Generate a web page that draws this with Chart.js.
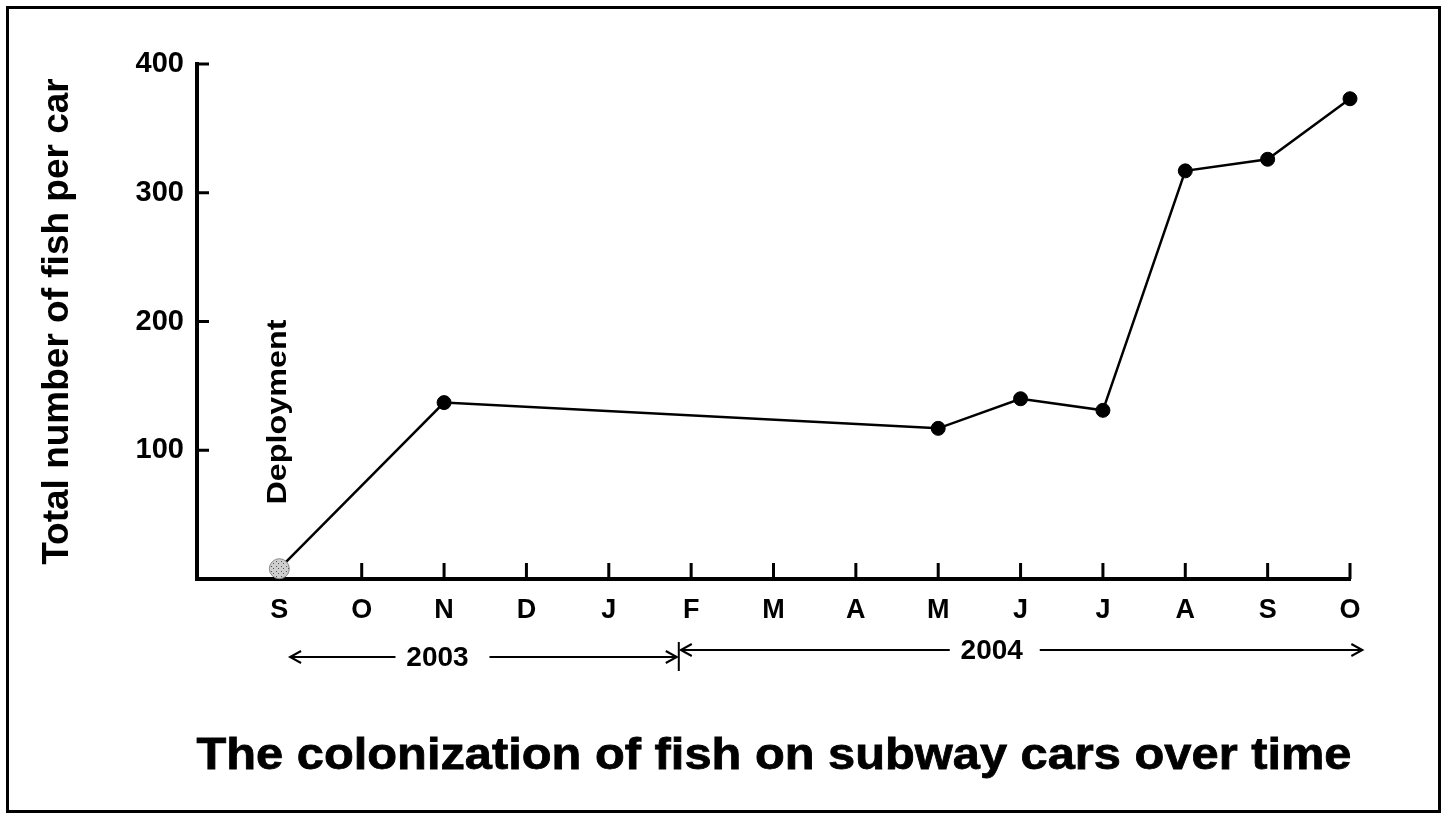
<!DOCTYPE html>
<html>
<head>
<meta charset="utf-8">
<title>Colonization of fish on subway cars</title>
<script src="https://cdn.jsdelivr.net/npm/chart.js@4.4.1/dist/chart.umd.min.js"></script>
<style>
  html, body { margin: 0; padding: 0; background: #fff; }
  #wrap { width: 1447px; height: 820px; }
</style>
</head>
<body>
<div id="wrap"><canvas id="fish-chart" width="1447" height="820"></canvas></div>
<script>
// ── Data ──────────────────────────────────────────────────────────
// month ticks, Sep 2003 .. Oct 2004
const monthLabels = ['S', 'O', 'N', 'D', 'J', 'F', 'M', 'A', 'M', 'J', 'J', 'A', 'S', 'O'];
// which month each survey was taken in (index into monthLabels)
const surveyMonthIdx = [0, 2, 8, 9, 10, 11, 12, 13];
// total fish per car at each survey (first one = deployment)
const fishPerCar = [8, 137, 117, 140, 131, 317, 326, 373];
const yTickValues = [100, 200, 300, 400];
const yearLabels = ['2003', '2004'];

const chartTitle = 'The colonization of fish on subway cars over time';
const yAxisTitle = 'Total number of fish per car';
const deployLabel = 'Deployment';

const FONT = '"Liberation Sans", Arial, Helvetica, sans-serif';

// ── Helpers ───────────────────────────────────────────────────────
// draw bold text squeezed/stretched to a given width
function fitText(ctx, text, x, y, size, width, angle, weight) {
  ctx.save();
  ctx.translate(x, y);
  ctx.rotate(angle || 0);
  ctx.font = `bold ${size}px ${FONT}`;
  const w = ctx.measureText(text).width;
  ctx.scale(width / w, 1);
  ctx.textAlign = 'center';
  ctx.textBaseline = 'alphabetic';
  ctx.fillStyle = '#000';
  ctx.fillText(text, 0, 0);
  if (weight) {
    ctx.strokeStyle = '#000';
    ctx.lineWidth = weight;
    ctx.strokeText(text, 0, 0);
  }
  ctx.restore();
}

// double-headed arrow with the year label in a gap
function yearArrow(ctx, x1, x2, y, label, cx, gapL, gapR) {
  ctx.beginPath();
  ctx.moveTo(x1, y); ctx.lineTo(cx - gapL, y);
  ctx.moveTo(cx + gapR, y); ctx.lineTo(x2, y);
  ctx.moveTo(x1 + 11, y - 6); ctx.lineTo(x1, y); ctx.lineTo(x1 + 11, y + 6);
  ctx.moveTo(x2 - 11, y - 6); ctx.lineTo(x2, y); ctx.lineTo(x2 - 11, y + 6);
  ctx.stroke();
  ctx.font = `bold 28px ${FONT}`;
  ctx.textAlign = 'center';
  ctx.textBaseline = 'middle';
  ctx.fillText(label, cx, y + 1);
}

// speckled grey fill for the deployment marker
function speckle() {
  const c = document.createElement('canvas');
  c.width = 5; c.height = 5;
  const g = c.getContext('2d');
  g.fillStyle = '#cfcfcf';
  g.fillRect(0, 0, 5, 5);
  g.fillStyle = '#555';
  g.fillRect(1, 1, 1, 1);
  g.fillRect(3, 3, 1, 1);
  return g.createPattern(c, 'repeat');
}

// ── Extra drawing: inward ticks, year arrows, labels, frame ───────
const decorPlugin = {
  id: 'decor',
  beforeDatasetsDraw(chart) {
    const { ctx, chartArea: a, scales: { x, y } } = chart;
    ctx.save();
    ctx.strokeStyle = '#000';
    ctx.lineWidth = 3;
    ctx.beginPath();
    y.ticks.forEach(t => {
      const py = y.getPixelForValue(t.value);
      ctx.moveTo(a.left, py); ctx.lineTo(a.left + 12, py);
    });
    x.ticks.forEach(t => {
      const px = x.getPixelForValue(t.value);
      ctx.moveTo(px, a.bottom); ctx.lineTo(px, a.bottom - 16);
    });
    ctx.stroke();
    ctx.restore();
  },
  afterDraw(chart) {
    const { ctx, scales: { x } } = chart;
    ctx.save();
    ctx.strokeStyle = '#000';
    ctx.fillStyle = '#000';
    ctx.lineWidth = 2;

    // year spans
    const split = x.getPixelForValue(4.85);
    yearArrow(ctx, x.getPixelForValue(0.13), split - 2, 657, yearLabels[0],
              x.getPixelForValue(1.92), 42, 52);
    yearArrow(ctx, split + 2, x.getPixelForValue(13.15), 650, yearLabels[1],
              x.getPixelForValue(8.65), 42, 48);
    ctx.beginPath();
    ctx.moveTo(split, 642); ctx.lineTo(split, 671);
    ctx.stroke();

    // vertical "Deployment" note above the first point
    fitText(ctx, deployLabel, x.getPixelForValue(0) + 7, 412, 27, 185, -Math.PI / 2, 0);

    // chart caption
    fitText(ctx, chartTitle, 774, 769, 45, 1155, 0, 0.8);

    // outer frame
    ctx.lineWidth = 3;
    ctx.strokeRect(7.5, 7.5, 1432, 804);
    ctx.restore();
  }
};

// ── Chart ─────────────────────────────────────────────────────────
const points = surveyMonthIdx.map((m, i) => ({ x: m, y: fishPerCar[i] }));
const deployFill = speckle();

new Chart(document.getElementById('fish-chart'), {
  type: 'line',
  data: {
    datasets: [{
      data: points,
      borderColor: '#000',
      borderWidth: 2.5,
      tension: 0,
      clip: false,
      pointRadius: c => (c.dataIndex === 0 ? 10 : 7),
      pointBackgroundColor: c => (c.dataIndex === 0 ? deployFill : '#000'),
      pointBorderColor: c => (c.dataIndex === 0 ? '#888' : '#000'),
      pointBorderWidth: 1,
    }],
  },
  options: {
    responsive: false,
    animation: false,
    events: [],
    layout: { padding: { left: 0, right: 97, top: 64, bottom: 0 } },
    plugins: {
      legend: { display: false },
      tooltip: { enabled: false },
    },
    scales: {
      x: {
        type: 'linear',
        min: -1,
        max: 13,
        afterBuildTicks: s => { s.ticks = monthLabels.map((_, i) => ({ value: i })); },
        afterFit: s => { s.height = 241; },
        ticks: {
          autoSkip: false,
          maxRotation: 0,
          padding: 15,
          color: '#000',
          font: { family: FONT, size: 27, weight: 'bold' },
          callback: v => monthLabels[v],
        },
        grid: { display: false, drawTicks: false },
        border: { display: true, width: 4, color: '#000' },
      },
      y: {
        min: 0,
        max: 400,
        afterBuildTicks: s => { s.ticks = yTickValues.map(v => ({ value: v })); },
        afterFit: s => { s.width = 197; },
        ticks: {
          padding: 13,
          color: '#000',
          font: { family: FONT, size: 29, weight: 'bold' },
        },
        grid: { display: false, drawTicks: false },
        border: { display: true, width: 4, color: '#000' },
        title: {
          display: true,
          text: yAxisTitle,
          color: '#000',
          font: { family: FONT, size: 37, weight: 'bold' },
          padding: { top: 36, bottom: 0 },
        },
      },
    },
  },
  plugins: [decorPlugin],
});
</script>
</body>
</html>
